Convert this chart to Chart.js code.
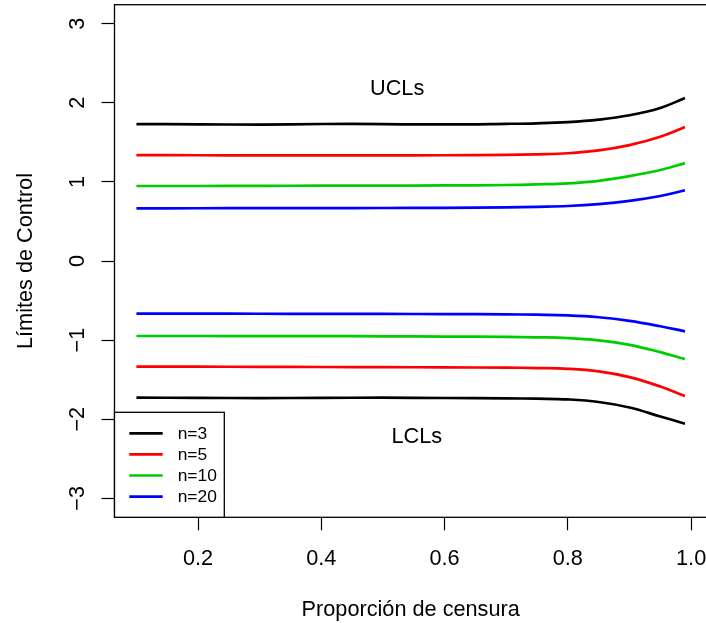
<!DOCTYPE html>
<html>
<head>
<meta charset="utf-8">
<script src="https://cdn.jsdelivr.net/npm/chart.js@4.4.1/dist/chart.umd.min.js"></script>
<style>
html, body { margin: 0; padding: 0; overflow: hidden; background: #fff; }
</style>
</head>
<body>
<canvas id="myChart" width="708" height="623" style="width:708px;height:623px"></canvas>
<script>
// proporcion de censura
var proporcion = [0.1, 0.2, 0.3, 0.4, 0.5, 0.6, 0.7, 0.75, 0.8, 0.85, 0.9, 0.95, 0.99];

// limites superiores (UCL)
var ucl3  = [1.730, 1.728, 1.725, 1.732, 1.731, 1.726, 1.734, 1.741, 1.756, 1.787, 1.842, 1.935, 2.060];
var ucl5  = [1.338, 1.337, 1.336, 1.336, 1.335, 1.337, 1.342, 1.349, 1.362, 1.398, 1.465, 1.570, 1.694];
var ucl10 = [0.948, 0.948, 0.950, 0.952, 0.953, 0.955, 0.961, 0.969, 0.982, 1.013, 1.072, 1.150, 1.237];
var ucl20 = [0.666, 0.667, 0.668, 0.669, 0.670, 0.672, 0.678, 0.685, 0.695, 0.719, 0.760, 0.822, 0.894];

// limites inferiores (LCL)
var lcl3  = [-1.728, -1.730, -1.733, -1.730, -1.728, -1.732, -1.737, -1.741, -1.750, -1.782, -1.852, -1.965, -2.057];
var lcl5  = [-1.335, -1.336, -1.338, -1.340, -1.342, -1.345, -1.348, -1.353, -1.363, -1.396, -1.468, -1.587, -1.707];
var lcl10 = [-0.948, -0.948, -0.949, -0.950, -0.952, -0.955, -0.960, -0.965, -0.974, -1.003, -1.060, -1.152, -1.239];
var lcl20 = [-0.666, -0.666, -0.667, -0.668, -0.669, -0.671, -0.675, -0.679, -0.687, -0.711, -0.757, -0.825, -0.889];

var etiquetas = ['n=3', 'n=5', 'n=10', 'n=20'];
var colores = ['#000000', '#FF0000', '#00CD00', '#0000FF'];

var xTicks = [0.2, 0.4, 0.6, 0.8, 1.0];
var yTicks = [-3, -2, -1, 0, 1, 2, 3];

var FONT = "'Liberation Sans', Arial, sans-serif";

function puntos(ys) {
    return proporcion.map(function (x, i) { return { x: x, y: ys[i] }; });
}

var superiores = [ucl3, ucl5, ucl10, ucl20];
var inferiores = [lcl3, lcl5, lcl10, lcl20];
var datasets = [];
for (var i = 0; i < etiquetas.length; i++) {
    [superiores[i], inferiores[i]].forEach(function (serie) {
        datasets.push({
            label: etiquetas[i],
            data: puntos(serie),
            borderColor: colores[i],
            backgroundColor: colores[i],
            borderWidth: 2.7,
            pointRadius: 0,
            tension: 0.4,
            fill: false
        });
    });
}

// textos, leyenda, caja y etiquetas del eje y
var extras = {
    id: 'extras',
    afterDraw: function (chart) {
        var ctx = chart.ctx;
        var a = chart.chartArea;
        var xs = chart.scales.x, ys = chart.scales.y;
        ctx.save();
        ctx.fillStyle = '#000';
        ctx.strokeStyle = '#000';

        // caja
        ctx.lineWidth = 1.3;
        ctx.strokeRect(a.left, a.top, a.right - a.left, a.bottom - a.top);

        // etiquetas eje y (rotadas)
        ctx.font = '21.7px ' + FONT;
        ctx.textAlign = 'center';
        ctx.textBaseline = 'alphabetic';
        ys.ticks.forEach(function (t) {
            var py = ys.getPixelForValue(t.value);
            ctx.save();
            ctx.translate(83.5, py);
            ctx.rotate(-Math.PI / 2);
            ctx.fillText(t.value < 0 ? '\u2212' + Math.abs(t.value) : String(t.value), 0, 0);
            ctx.restore();
        });

        // titulos
        ctx.save();
        ctx.translate(32, (a.top + a.bottom) / 2);
        ctx.rotate(-Math.PI / 2);
        ctx.fillText('Límites de Control', 0, 0);
        ctx.restore();
        ctx.fillText('Proporción de censura', (a.left + a.right) / 2, 615.5);

        // UCLs / LCLs
        ctx.fillText('UCLs', xs.getPixelForValue(0.523), ys.getPixelForValue(2.2) + 7.8);
        ctx.fillText('LCLs', xs.getPixelForValue(0.555), ys.getPixelForValue(-2.2) + 7.8);

        // leyenda
        var lx = a.left, ly = 412.3, lw = 109.8, lh = a.bottom - 412.3;
        ctx.fillStyle = '#fff';
        ctx.fillRect(lx, ly, lw, lh);
        ctx.lineWidth = 1.3;
        ctx.strokeRect(lx, ly, lw, lh);
        ctx.font = '17.4px ' + FONT;
        ctx.textAlign = 'left';
        ctx.textBaseline = 'middle';
        var vistos = {};
        var fila = 0;
        chart.data.datasets.forEach(function (d) {
            if (vistos[d.label]) return;
            vistos[d.label] = true;
            var y = 433.3 + fila * 21.1;
            ctx.strokeStyle = d.borderColor;
            ctx.lineWidth = 2.7;
            ctx.beginPath();
            ctx.moveTo(lx + 14.8, y);
            ctx.lineTo(lx + 48.2, y);
            ctx.stroke();
            ctx.fillStyle = '#000';
            ctx.fillText(d.label, lx + 63.2, y + 1);
            fila++;
        });
        ctx.restore();
    }
};

var ctx = document.getElementById('myChart');
var chart = new Chart(ctx, {
    type: 'line',
    data: { datasets: datasets },
    options: {
        responsive: false,
        animation: false,
        layout: { padding: { left: 0, top: 4.7, right: 1.1, bottom: 0 } },
        plugins: {
            legend: { display: false },
            tooltip: { enabled: false }
        },
        scales: {
            x: {
                type: 'linear',
                min: 0.0644,
                max: 1.0256,
                afterBuildTicks: function (s) { s.ticks = xTicks.map(function (v) { return { value: v }; }); },
                afterFit: function (s) { s.height = 105.7; s.paddingLeft = 0; s.paddingRight = 0; },
                border: { display: false },
                grid: { drawOnChartArea: false, drawTicks: true, tickLength: 13, color: '#000', tickWidth: 1.2 },
                ticks: {
                    color: '#000',
                    font: { family: FONT, size: 21.7 },
                    padding: 16,
                    maxRotation: 0,
                    autoSkip: false,
                    callback: function (v) { return Number(v).toFixed(1); }
                }
            },
            y: {
                type: 'linear',
                min: -3.24,
                max: 3.24,
                afterBuildTicks: function (s) { s.ticks = yTicks.map(function (v) { return { value: v }; }); },
                afterFit: function (s) { s.width = 114.5; s.paddingTop = 0; s.paddingBottom = 0; },
                border: { display: false },
                grid: { drawOnChartArea: false, drawTicks: true, tickLength: 13, color: '#000', tickWidth: 1.2 },
                ticks: { display: false }
            }
        }
    },
    plugins: [extras]
});
</script>
</body>
</html>
